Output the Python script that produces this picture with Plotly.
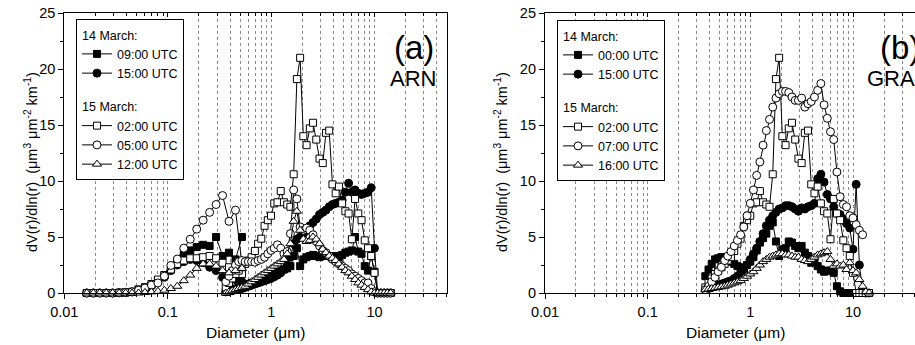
import plotly.graph_objects as go

# ---------------- data ----------------
# diameter grids (um)
SMPS_D = [0.0165, 0.0191, 0.0220, 0.0254, 0.0293, 0.0339, 0.0391, 0.0452, 0.0522, 0.0603,
          0.0696, 0.0804, 0.0928, 0.1072, 0.1237, 0.1429, 0.1650, 0.1906, 0.2200, 0.2541,
          0.2934, 0.3388, 0.3913, 0.4519, 0.5218]
APS_D = [0.364, 0.391, 0.420, 0.452, 0.485, 0.522, 0.561, 0.602, 0.647, 0.696,
         0.748, 0.803, 0.863, 0.928, 0.997, 1.071, 1.151, 1.237, 1.329, 1.429,
         1.535, 1.650, 1.773, 1.905, 2.047, 2.200, 2.364, 2.540, 2.730, 2.934,
         3.153, 3.388, 3.640, 3.912, 4.204, 4.518, 4.855, 5.217, 5.606, 6.024,
         6.474, 6.957, 7.476, 8.034, 8.633, 9.278, 9.969, 10.71, 11.51, 12.37,
         13.29, 14.29]

# ARN (panel a)
ARN_SMPS_0900 = [0, 0, 0, 0, 0, 0.02, 0.05, 0.1, 0.3, 0.5, 0.7, 1.1, 1.6, 2.1, 2.8, 3.4, 3.8, 4.1, 4.3, 4.2, 5.0, 3.3, 3.6, 3.0, 5.0]
ARN_SMPS_1500 = [0, 0, 0, 0, 0, 0.02, 0.05, 0.1, 0.25, 0.45, 0.65, 1.0, 1.4, 2.0, 2.5, 2.8, 3.0, 2.9, 2.7, 2.3, 2.0, 1.4, 1.6, 1.2, 1.0]
ARN_SMPS_0200 = [0, 0, 0, 0, 0, 0.02, 0.05, 0.1, 0.3, 0.5, 0.8, 1.2, 1.6, 2.1, 2.6, 2.9, 3.1, 3.1, 3.2, 3.3, 3.1, 2.7, 2.3, 1.9, 1.7]
ARN_SMPS_0500 = [0, 0, 0, 0, 0, 0.02, 0.05, 0.1, 0.25, 0.45, 0.7, 0.9, 1.5, 2.46, 3.03, 4.0, 4.8, 5.7, 6.5, 7.2, 7.9, 8.7, 6.4, 7.4, 2.6]
ARN_SMPS_1200 = [0, 0, 0, 0, 0, 0, 0, 0, 0, 0.05, 0.1, 0.15, 0.25, 0.4, 0.6, 1.1, 1.6, 2.2, 2.6, 2.6, 2.4, 2.0, 1.8, 2.0, 2.2]

ARN_APS_0900 = [0.1, 0.2, 0.3, 0.4, 0.5, 0.6, 0.7, 0.8, 0.9, 1.0,
                1.2, 1.3, 1.4, 1.6, 1.7, 1.8, 1.9, 2.0, 2.1, 2.2,
                2.4, 3.3, 4.0, 2.4, 3.0, 3.2, 3.3, 3.4, 3.3, 3.2,
                3.3, 3.4, 3.3, 3.1, 3.3, 3.2, 3.4, 3.6, 3.7, 3.8,
                5.0, 3.7, 3.5, 2.4, 2.0, 3.3, 1.9, 0, 0, 0, 0, 0]
ARN_APS_1500 = [0.1, 0.15, 0.2, 0.3, 0.35, 0.4, 0.5, 0.6, 0.7, 0.8,
                0.9, 1.0, 1.1, 1.2, 1.3, 1.45, 1.6, 1.8, 2.1, 2.5,
                3.2, 4.4, 4.8, 5.0, 5.3, 5.6, 6.0, 6.3, 6.6, 7.0,
                7.2, 7.4, 7.7, 7.9, 8.0, 8.1, 8.3, 9.0, 9.8, 9.0,
                9.2, 8.9, 8.8, 8.9, 9.0, 9.4, 4.0, 0, 0, 0, 0, 0]
ARN_APS_0200 = [0.5, 0.9, 1.3, 1.7, 2.0, 2.3, 2.6, 2.9, 3.2, 3.75,
                4.4, 4.85, 6.0, 6.5, 6.9, 8.0, 8.1, 9.1, 8.1, 7.9,
                7.7, 10.6, 19.1, 21.0, 14.0, 13.2, 14.7, 15.2, 13.7, 12.0,
                11.6, 14.3, 14.5, 9.7, 8.9, 9.5, 8.0, 7.3, 7.1, 4.8,
                8.4, 7.1, 6.5, 4.7, 4.0, 3.3, 1.8, 0, 0, 0, 0, 0]
ARN_APS_0500 = [1.0, 1.5, 2.0, 2.5, 2.8, 2.9, 2.8, 2.8, 2.8, 2.75,
                2.9, 3.0, 3.2, 3.5, 3.8, 4.0, 4.3, 4.0, 3.5, 3.7,
                5.3, 9.2, 8.4, 5.9, 5.6, 5.8, 5.6, 5.2, 4.6, 4.2,
                3.8, 3.6, 3.3, 3.0, 2.8, 2.6, 2.4, 2.2, 2.0, 1.7,
                1.5, 1.3, 1.1, 0.9, 0.9, 0.4, 0.1, 0, 0, 0, 0, 0]
ARN_APS_1200 = [0.0, 0.1, 0.2, 0.3, 0.4, 0.5, 0.6, 0.8, 1.0, 1.2,
                1.4, 1.6, 1.8, 2.0, 2.2, 2.4, 2.6, 2.8, 3.0, 3.5,
                4.4, 6.4, 7.3, 5.6, 4.8, 4.6, 4.7, 5.0, 4.8, 4.4,
                3.9, 3.6, 3.3, 3.1, 2.9, 2.6, 2.3, 2.0, 1.8, 1.5,
                1.2, 0.9, 0.7, 0.5, 0.3, 0.1, 0, 0, 0, 0, 0, 0]

# GRA (panel b)
GRA_APS_0000 = [1.5, 2.1, 2.6, 3.0, 3.1, 3.2, 3.2, 3.0, 2.8, 2.6,
                2.4, 2.3, 2.2, 2.5, 2.8, 3.2, 3.8, 4.5, 4.9, 5.3,
                6.0, 6.3, 4.6, 3.3, 3.9, 4.0, 4.6, 4.5, 4.2, 4.0,
                4.2, 3.6, 3.3, 2.7, 3.0, 2.4, 2.1, 1.9, 2.0, 2.0,
                1.8, 0.6, 0.15, 0, 0, 0, 0, 0, 0, 0, 0, 0]
GRA_APS_1500 = [0.3, 0.4, 0.5, 0.6, 0.7, 0.8, 0.9, 1.0, 1.1, 1.3,
                1.5, 1.8, 2.1, 2.5, 3.0, 3.5, 4.0, 4.6, 5.3, 6.0,
                6.5, 6.9, 7.2, 7.5, 7.6, 7.8, 7.8, 7.7, 7.5, 7.3,
                7.6, 7.5, 7.7, 7.8, 8.0, 10.2, 10.6, 9.9, 8.8, 8.4,
                7.7, 7.1, 7.0, 6.6, 6.2, 5.8, 3.9, 9.7, 2.5, 0.3, 0, 0]
GRA_APS_0200 = ARN_APS_0200
GRA_APS_0700 = [0.3, 0.6, 1.0, 1.4, 1.9, 2.3, 2.9, 3.3, 3.7, 4.2,
                4.7, 5.2, 5.9, 6.9, 8.0, 9.2, 10.5, 11.7, 13.2, 14.5,
                15.5, 16.6, 17.4, 17.8, 18.0, 18.0, 17.9, 17.5, 17.2, 17.2,
                17.4, 16.6, 16.9, 17.1, 17.5, 18.1, 18.7, 16.8, 15.6, 14.4,
                13.7, 10.8, 8.6, 7.9, 7.7, 6.9, 6.7, 6.1, 5.6, 5.2]
GRA_APS_1600 = [0.3, 0.35, 0.4, 0.45, 0.5, 0.55, 0.6, 0.7, 0.8, 0.9,
                1.0, 1.1, 1.3, 1.5, 1.7, 1.9, 2.2, 2.5, 2.8, 3.0,
                3.2, 3.3, 3.4, 3.5, 3.5, 3.4, 3.4, 3.3, 3.2, 3.2,
                3.0, 2.9, 2.8, 3.0, 3.2, 3.4, 3.5, 3.6, 3.7, 3.0,
                2.4, 2.6, 2.4, 2.5, 2.1, 2.7, 2.0, 1.8, 1.2, 0.6, 0.1, 0]

X_TICKS = [0.01, 0.1, 1, 10]
X_TICKTEXT = ["0.01", "0.1", "1", "10"]

# ---------------- figure ----------------
W, H = 915, 345
FONT = "Liberation Sans, Arial, sans-serif"
LEG_FS = 12.5

STY = {
    "sq_f": dict(symbol="square", size=7, color="black", line=dict(color="black", width=1)),
    "ci_f": dict(symbol="circle", size=8, color="black", line=dict(color="black", width=1)),
    "sq_o": dict(symbol="square", size=7, color="white", line=dict(color="black", width=1)),
    "ci_o": dict(symbol="circle", size=8, color="white", line=dict(color="black", width=1)),
    "tr_o": dict(symbol="triangle-up", size=8, color="white", line=dict(color="black", width=1)),
}

fig = go.Figure()


def join(d1, v1, d2, v2):
    if d1 is None:
        return list(d2), list(v2)
    return list(d1) + [None] + list(d2), list(v1) + [None] + list(v2)


panels = [
    ("x", "y", "legend", [
        ("09:00 UTC", "g14", "14 March:", "sq_f", SMPS_D, ARN_SMPS_0900, APS_D, ARN_APS_0900),
        ("15:00 UTC", "g14", "14 March:", "ci_f", SMPS_D, ARN_SMPS_1500, APS_D, ARN_APS_1500),
        ("02:00 UTC", "g15", "15 March:", "sq_o", SMPS_D, ARN_SMPS_0200, APS_D, ARN_APS_0200),
        ("05:00 UTC", "g15", "15 March:", "ci_o", SMPS_D, ARN_SMPS_0500, APS_D, ARN_APS_0500),
        ("12:00 UTC", "g15", "15 March:", "tr_o", SMPS_D, ARN_SMPS_1200, APS_D, ARN_APS_1200),
    ]),
    ("x2", "y2", "legend2", [
        ("00:00 UTC", "h14", "14 March:", "sq_f", None, None, APS_D, GRA_APS_0000),
        ("15:00 UTC", "h14", "14 March:", "ci_f", None, None, APS_D, GRA_APS_1500),
        ("02:00 UTC", "h15", "15 March:", "sq_o", None, None, APS_D, GRA_APS_0200),
        ("07:00 UTC", "h15", "15 March:", "ci_o", None, None, APS_D[:len(GRA_APS_0700)], GRA_APS_0700),
        ("16:00 UTC", "h15", "15 March:", "tr_o", None, None, APS_D, GRA_APS_1600),
    ]),
]

for xa, ya, leg, series in panels:
    for name, grp, gtitle, sty, d1, v1, d2, v2 in series:
        xs, ys = join(d1, v1, d2, v2)
        fig.add_trace(go.Scatter(
            x=xs, y=ys, mode="lines+markers", name=name,
            xaxis=xa, yaxis=ya, legend=leg,
            legendgroup=grp,
            legendgrouptitle=dict(text=gtitle, font=dict(size=LEG_FS, family=FONT, color="black")),
            line=dict(color="black", width=1), marker=STY[sty],
            connectgaps=False, cliponaxis=False, showlegend=True,
        ))

# empty traces to bring up the top (inside-tick) axes
fig.add_trace(go.Scatter(x=[], y=[], xaxis="x3", yaxis="y", showlegend=False))
fig.add_trace(go.Scatter(x=[], y=[], xaxis="x4", yaxis="y2", showlegend=False))

PL = 64.3 / W
PR = 447.0 / W
QL = 545.0 / W
YB = 1 - 293.0 / H
YT = 1 - 13.0 / H
GRID = "#8a8a8a"


def xaxis(domain, rng, anchor):
    return dict(
        type="log", domain=domain, range=rng, anchor=anchor, automargin=False,
        tickvals=X_TICKS, ticktext=X_TICKTEXT, ticks="outside", ticklen=5, tickwidth=1, tickcolor="black",
        showgrid=True, gridcolor=GRID, griddash="3px,3px", gridwidth=0.8,
        minor=dict(dtick="D1", ticks="outside", ticklen=3, tickcolor="black",
                   showgrid=True, gridcolor=GRID, griddash="3px,3px", gridwidth=0.8),
        showline=True, linecolor="black", linewidth=1.2, mirror=True,
        tickfont=dict(size=14.5, family=FONT, color="black"), zeroline=False,
    )


def topaxis(over, rng, anchor):
    return dict(
        type="log", overlaying=over, side="top", anchor=anchor, range=rng, automargin=False,
        tickvals=X_TICKS, ticks="inside", ticklen=4, tickcolor="black", showticklabels=False,
        minor=dict(dtick="D1", ticks="inside", ticklen=3, tickcolor="black", showgrid=False),
        showgrid=False, showline=False, zeroline=False,
    )


def yaxis(anchor, mirror):
    return dict(
        domain=[YB, YT], range=[0, 25], anchor=anchor, tick0=0, dtick=5, automargin=False,
        ticks="outside", ticklen=5, tickcolor="black",
        minor=dict(dtick=2.5, ticks="outside", ticklen=3, tickcolor="black", showgrid=False),
        showgrid=False, zeroline=False, showline=True, linecolor="black", linewidth=1.2, mirror=mirror,
        tickfont=dict(size=14.5, family=FONT, color="black"),
    )


RNG_A = [-2, 1.7]
RNG_B = [-2, (915 - 545) / 102.7 - 2]

leg_common = dict(
    xanchor="left", yanchor="top", bordercolor="black", borderwidth=1, bgcolor="white",
    font=dict(size=LEG_FS, family=FONT, color="black"), traceorder="grouped",
    tracegroupgap=14, itemwidth=30,
)

fig.update_layout(
    width=W, height=H, margin=dict(l=0, r=0, t=0, b=0, autoexpand=False),
    paper_bgcolor="white", plot_bgcolor="white",
    font=dict(family=FONT, color="black"),
    xaxis=xaxis([PL, PR], RNG_A, "y"),
    xaxis2=xaxis([QL, 1.0], RNG_B, "y2"),
    xaxis3=topaxis("x", RNG_A, "y"),
    xaxis4=topaxis("x2", RNG_B, "y2"),
    yaxis=yaxis("x", True),
    yaxis2=yaxis("x2", False),
    legend=dict(x=76 / W, y=1 - 19 / H, **leg_common),
    legend2=dict(x=557 / W, y=1 - 20 / H, **leg_common),
)

YTITLE = "dV(r)/dln(r)\u00a0\u00a0(\u03bcm<sup>3</sup> \u03bcm<sup>-2</sup> km<sup>-1</sup>)"
XTITLE = "Diameter (\u03bcm)"
ann = [
    dict(x=31 / W, y=1 - 162 / H, text=YTITLE, textangle=-90, font=dict(size=14.5)),
    dict(x=501 / W, y=1 - 162 / H, text=YTITLE, textangle=-90, font=dict(size=14.5)),
    dict(x=255.5 / W, y=1 - 332 / H, text=XTITLE, font=dict(size=15.5)),
    dict(x=735 / W, y=1 - 332 / H, text=XTITLE, font=dict(size=15.5)),
    dict(x=436 / W, y=1 - 47 / H, text="(a)", xanchor="right", font=dict(size=33)),
    dict(x=438 / W, y=1 - 78 / H, text="ARN", xanchor="right", font=dict(size=22)),
    dict(x=878 / W, y=1 - 47 / H, text="(b)", xanchor="left", font=dict(size=33)),
    dict(x=865 / W, y=1 - 78 / H, text="GRA", xanchor="left", font=dict(size=22)),
]
for a in ann:
    a.update(xref="paper", yref="paper", showarrow=False)
    a.setdefault("xanchor", "center")
    a["yanchor"] = "middle"
    a["font"].update(family=FONT, color="black")
fig.update_layout(annotations=ann)

fig.write_html(
    "out.html",
    config={"displayModeBar": False},
    post_script="document.body.style.margin='0px';document.body.style.overflow='hidden';",
)
